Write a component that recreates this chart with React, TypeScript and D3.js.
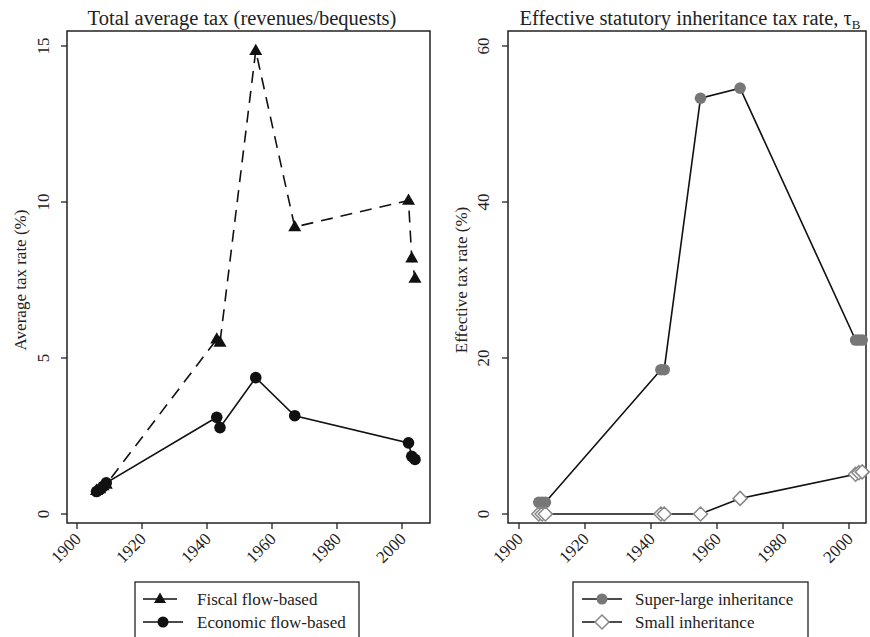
import React from "react";
import * as d3 from "d3";

const fiscalYears = [1906, 1907, 1908, 1909, 1943, 1944, 1955, 1967, 2002, 2003, 2004];
const fiscalValues = [0.75, 0.8, 0.9, 0.95, 5.6, 5.5, 14.85, 9.2, 10.05, 8.2, 7.55];
const economicYears = [1906, 1907, 1908, 1909, 1943, 1944, 1955, 1967, 2002, 2003, 2004];
const economicValues = [0.72, 0.78, 0.88, 1.0, 3.1, 2.77, 4.37, 3.15, 2.28, 1.85, 1.75];

const superYears = [1906, 1907, 1908, 1943, 1944, 1955, 1967, 2002, 2003, 2004];
const superValues = [1.5, 1.5, 1.5, 18.5, 18.5, 53.3, 54.6, 22.3, 22.3, 22.3];
const smallYears = [1906, 1907, 1908, 1943, 1944, 1955, 1967, 2002, 2003, 2004];
const smallValues = [0, 0, 0, 0, 0, 0, 2.0, 5.1, 5.3, 5.4];

const xTicks = [1900, 1920, 1940, 1960, 1980, 2000];
const leftYTicks = [0, 5, 10, 15];
const rightYTicks = [0, 20, 40, 60];

const FONT = "'Liberation Serif', 'Times New Roman', serif";

type Pt = { x: number; y: number };

function tri(p: Pt, s: number) {
  const h = s * 0.87;
  return `M${p.x},${p.y - h * 0.62}L${p.x + s / 2},${p.y + h * 0.38}L${p.x - s / 2},${p.y + h * 0.38}Z`;
}
function diamond(p: Pt, r: number) {
  return `M${p.x},${p.y - r}L${p.x + r},${p.y}L${p.x},${p.y + r}L${p.x - r},${p.y}Z`;
}

function Panel(props: {
  left: number; right: number; top: number; bottom: number;
  x0: number; x2000: number; yMax: number; yTicks: number[];
  title: React.ReactNode; titleX: number; yTitle: string; yTitleX: number; yLabX: number;
  children: (x: d3.ScaleLinear<number, number>, y: d3.ScaleLinear<number, number>) => React.ReactNode;
}) {
  const x = d3.scaleLinear().domain([1900, 2000]).range([props.x0, props.x2000]);
  const y = d3.scaleLinear().domain([0, props.yMax]).range([514, 46]);
  const midY = (y(0) + y(props.yMax)) / 2;
  return (
    <g>
      <rect x={props.left} y={props.top} width={props.right - props.left} height={props.bottom - props.top}
        fill="white" stroke="#222" strokeWidth={1.5} />
      {props.yTicks.map((t) => (
        <g key={"y" + t}>
          <line x1={props.left - 6} x2={props.left} y1={y(t)} y2={y(t)} stroke="#222" strokeWidth={1.3} />
          <text transform={`translate(${props.yLabX},${y(t)}) rotate(-90)`} textAnchor="middle"
            fontFamily={FONT} fontSize={17} fill="#222">{t}</text>
        </g>
      ))}
      {xTicks.map((t) => (
        <g key={"x" + t}>
          <line x1={x(t)} x2={x(t)} y1={props.bottom} y2={props.bottom + 6} stroke="#222" strokeWidth={1.3} />
          <text transform={`translate(${x(t) + 5},${props.bottom + 17}) rotate(-45)`} textAnchor="end"
            fontFamily={FONT} fontSize={17} fill="#222">{t}</text>
        </g>
      ))}
      <text transform={`translate(${props.yTitleX},${midY}) rotate(-90)`} textAnchor="middle"
        fontFamily={FONT} fontSize={17} fill="#222">{props.yTitle}</text>
      <text x={props.titleX} y={25} textAnchor="middle" fontFamily={FONT} fontSize={20.5} fill="#222">
        {props.title}
      </text>
      {props.children(x, y)}
    </g>
  );
}

export default function App() {
  const top = 31;
  const bottom = 523;
  return (
    <svg width={870} height={637} style={{ position: "absolute", left: 0, top: 0, background: "white" }}>
      <rect width={870} height={637} fill="white" />
      <Panel left={67} right={430} top={top} bottom={bottom} x0={77} x2000={402} yMax={15} yTicks={leftYTicks}
        title="Total average tax (revenues/bequests)" titleX={242} yTitle="Average tax rate (%)" yTitleX={26} yLabX={49}>
        {(x, y) => {
          const fp = fiscalYears.map((yr, i) => ({ x: x(yr), y: y(fiscalValues[i]) }));
          const ep = economicYears.map((yr, i) => ({ x: x(yr), y: y(economicValues[i]) }));
          const line = d3.line<Pt>().x((d) => d.x).y((d) => d.y);
          return (
            <g>
              <path d={line(fp) || ""} fill="none" stroke="#111" strokeWidth={1.6} strokeDasharray="12,8" />
              <path d={line(ep) || ""} fill="none" stroke="#111" strokeWidth={1.6} />
              {fp.map((p, i) => <path key={"f" + i} d={tri(p, 13)} fill="#111" />)}
              {ep.map((p, i) => <circle key={"e" + i} cx={p.x} cy={p.y} r={5.8} fill="#111" />)}
            </g>
          );
        }}
      </Panel>
      <Panel left={508} right={866} top={top} bottom={bottom} x0={519} x2000={849} yMax={60} yTicks={rightYTicks}
        title={<>Effective statutory inheritance tax rate,  τ<tspan fontSize={13} dy={4}>B</tspan></>} titleX={690}
        yTitle="Effective tax rate (%)" yTitleX={467} yLabX={489}>
        {(x, y) => {
          const sp = superYears.map((yr, i) => ({ x: x(yr), y: y(superValues[i]) }));
          const mp = smallYears.map((yr, i) => ({ x: x(yr), y: y(smallValues[i]) }));
          const line = d3.line<Pt>().x((d) => d.x).y((d) => d.y);
          return (
            <g>
              <path d={line(sp) || ""} fill="none" stroke="#111" strokeWidth={1.6} />
              <path d={line(mp) || ""} fill="none" stroke="#111" strokeWidth={1.6} />
              {sp.map((p, i) => <circle key={"s" + i} cx={p.x} cy={p.y} r={5.8} fill="#777" />)}
              {mp.map((p, i) => <path key={"m" + i} d={diamond(p, 7)} fill="white" stroke="#888" strokeWidth={1.5} />)}
            </g>
          );
        }}
      </Panel>
      {/* Legends */}
      <g>
        <rect x={135} y={582} width={224} height={70} fill="white" stroke="#222" strokeWidth={1.3} />
        <line x1={143} x2={177} y1={599} y2={599} stroke="#111" strokeWidth={1.6} />
        <path d={tri({ x: 160, y: 599 }, 12)} fill="#111" />
        <text x={197} y={605} fontFamily={FONT} fontSize={17} fill="#222">Fiscal flow-based</text>
        <line x1={143} x2={183} y1={622} y2={622} stroke="#111" strokeWidth={1.6} />
        <circle cx={163} cy={622} r={5.5} fill="#111" />
        <text x={197} y={628} fontFamily={FONT} fontSize={17} fill="#222">Economic flow-based</text>
      </g>
      <g>
        <rect x={573} y={582} width={235} height={70} fill="white" stroke="#222" strokeWidth={1.3} />
        <line x1={582} x2={622} y1={599} y2={599} stroke="#111" strokeWidth={1.6} />
        <circle cx={602} cy={599} r={5.5} fill="#777" />
        <text x={635} y={605} fontFamily={FONT} fontSize={17} fill="#222">Super-large inheritance</text>
        <line x1={582} x2={622} y1={622} y2={622} stroke="#111" strokeWidth={1.6} />
        <path d={diamond({ x: 602, y: 622 }, 7)} fill="white" stroke="#888" strokeWidth={1.5} />
        <text x={635} y={628} fontFamily={FONT} fontSize={17} fill="#222">Small inheritance</text>
      </g>
    </svg>
  );
}
